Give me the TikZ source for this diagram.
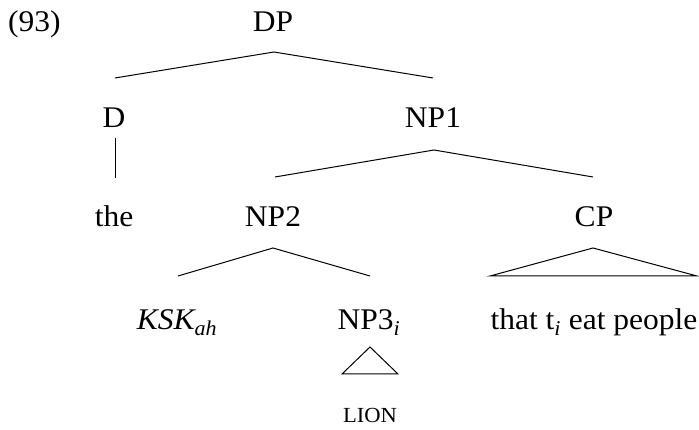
\documentclass[tikz,border=0pt]{standalone}
\usepackage{fontspec}
\setmainfont{Liberation Serif}[FakeStretch=1.05]
\usetikzlibrary{calc}
\begin{document}
\begin{tikzpicture}[x=1pt,y=1pt,
  lab/.style={anchor=base,inner sep=0pt,font=\fontsize{30}{36}\selectfont},
  small/.style={anchor=base,inner sep=0pt,font=\fontsize{21.5}{26}\selectfont},
  br/.style={line width=1pt}]
\useasboundingbox (0,0) rectangle (699,430);
\node[lab,anchor=base west] (ex) at (8,398) {(93)};
\node[lab] (DP) at (273,398) {DP};
\node[lab] (D) at (114,302) {D};
\node[lab] (NP1) at (433,302) {NP1};
\node[lab] (the) at (114,203) {the};
\node[lab] (NP2) at (273,203) {NP2};
\node[lab] (CP) at (594,203) {CP};
\node[lab] (KSK) at (177,100) {\textit{KSK\textsubscript{ah}}};
\node[lab] (NP3) at (369,100) {NP3\textsubscript{\textit{i}}};
\node[lab] (that) at (594,100) {that t\textsubscript{\textit{i}} eat people};
\node[small] (lion) at (370,7) {LION};
% branches
\coordinate (DPb) at ($(DP.base)+(1,-20)$);
\draw[br] ($(D.base)+(1,50)$) -- (DPb) -- ($(NP1.base)+(0,50)$);
\draw[br] ($(D.base)+(1,-10)$) -- ($(the.base)+(1,49)$);
\coordinate (NP1b) at ($(NP1.base)+(1,-22)$);
\draw[br] ($(NP2.base)+(2,50)$) -- (NP1b) -- ($(CP.base)+(-1,50)$);
\coordinate (NP2b) at ($(NP2.base)+(0,-21)$);
\draw[br] ($(KSK.base)+(1,54)$) -- (NP2b) -- ($(NP3.base)+(1,54)$);
\draw[br] ($(CP.base)+(-1,-21)$) -- ($(that.base)+(-104,54)$) -- ($(that.base)+(103,54)$) -- cycle;
\draw[br] ($(NP3.base)+(1,-17)$) -- ($(lion.base)+(-28,49)$) -- ($(lion.base)+(28,49)$) -- cycle;
\end{tikzpicture}
\end{document}
